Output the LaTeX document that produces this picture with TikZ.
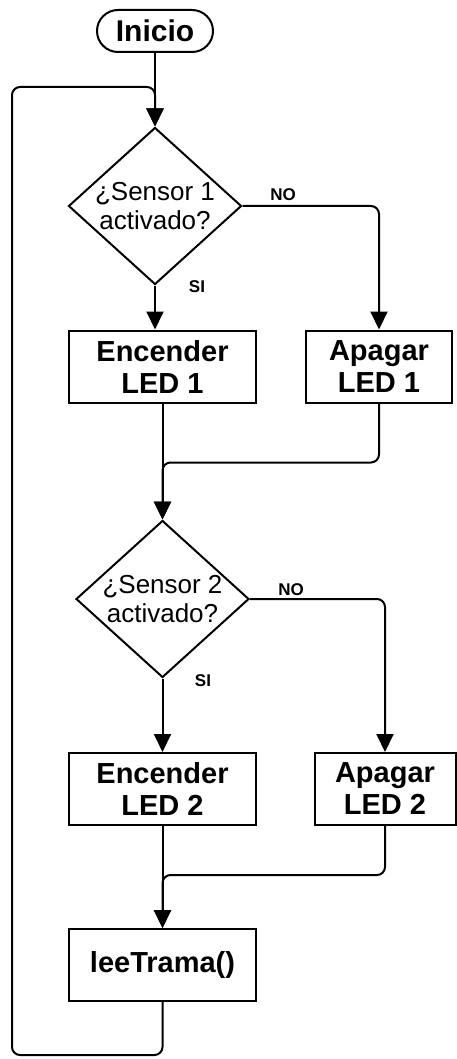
\documentclass[tikz,border=0pt]{standalone}
\usepackage{fontspec}
\setmainfont{Liberation Sans}
\usetikzlibrary{shapes.geometric, arrows.meta}

\begin{document}
\begin{tikzpicture}[x=1pt, y=-1pt,
      every node/.style={font=\fontsize{26}{29}\selectfont},
      term/.style={draw, line width=2pt, rounded corners=21pt,
          minimum width=116pt, minimum height=42pt, inner sep=0pt,
          font=\bfseries\fontsize{30}{32}\selectfont},
      proc/.style={draw, line width=2pt, minimum height=72pt, inner sep=0pt,
          align=center, font=\bfseries\fontsize{29}{32}\selectfont},
      decision/.style={draw, line width=2pt, diamond, aspect=1.1, inner sep=-6pt,
          minimum width=173pt, minimum height=157pt, align=center},
      flow/.style={line width=2pt, -{Triangle[length=18pt, width=17pt]}},
      lbl/.style={font=\bfseries\fontsize{17}{17}\selectfont}]
    \useasboundingbox (0,0) rectangle (457,1059);
    \node[term] (I) at (155,31) {Inicio};
    \node[decision] (S1) at (155,206) {¿Sensor 1\\activado?};
    \node[proc, minimum width=187pt] (E1) at (162.5,366.5) {Encender\\LED 1};
    \node[proc, minimum width=146pt] (A1) at (379,366.5) {Apagar\\LED 1};
    \node[decision] (S2) at (162.5,599) {¿Sensor 2\\activado?};
    \node[proc, minimum width=187pt] (E2) at (162.5,789) {Encender\\LED 2};
    \node[proc, minimum width=141pt] (A2) at (385,789) {Apagar\\LED 2};
    \node[proc, minimum width=187pt] (L) at (162.5,965) {leeTrama()};
    \node[lbl] (no1) at (283,195) {NO};
    \node[lbl] (si1) at (197,287) {SI};
    \node[lbl] (no2) at (291,590) {NO};
    \node[lbl] (si2) at (203,681) {SI};
    \draw[flow] (I.south) -- (S1.north);
    \draw[flow, rounded corners=8pt] (L.south) -- ++(0,53) -| (12,87) -| (S1.north);
    \draw[flow] (S1.south) -- (S1.south |- E1.north);
    \draw[flow, rounded corners=8pt] (S1.east) -| (A1.north);
    \draw[flow] (E1.south) -- (S2.north);
    \draw[flow, rounded corners=8pt] (A1.south) -- ++(0,59) -| (S2.north);
    \draw[flow] (S2.south) -- (E2.north);
    \draw[flow, rounded corners=8pt] (S2.east) -| (A2.north);
    \draw[flow] (E2.south) -- (L.north);
    \draw[flow, rounded corners=8pt] (A2.south) -- ++(0,49) -| (L.north);
  \end{tikzpicture}
\end{document}
